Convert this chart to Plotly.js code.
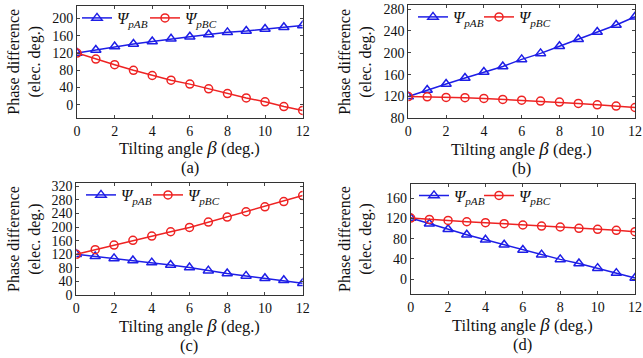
<!DOCTYPE html>
<html>
<head>
<meta charset="utf-8">
<script src="https://cdn.plot.ly/plotly-3.0.1.min.js"></script>
<style>html,body{margin:0;padding:0;background:#fff}#chart{width:643px;height:358px}</style>
</head>
<body>
<div id="chart"></div>
<script>
var beta = [0,1,2,3,4,5,6,7,8,9,10,11,12];
var aAB = [120,127,135,141,147,153,158,163,168,171,176,180,184];
var aBC = [120,106,93,80,68,57,48,37,26,16,7,-4,-13];
var bAB = [120,132,143,154,165,175,188,199,212,225,238,251,266];
var bBC = [120,119.6,118.5,118,116.6,114.8,113.5,111.7,110,107.5,105,102.6,100];
var cAB = [120,114,108,102,95.6,88.8,81,72,63.4,56.6,49.8,44,35];
var cBC = [120,133.7,147.3,161,173.7,186.3,199,214.6,229.3,245,259.5,275,292.7];
var dAB = [121,109.8,98.7,88,77.8,68,57.5,48.4,39,30.7,21.6,11.8,2];
var dBC = [121,118.3,116.3,113.7,111.8,109.8,107.2,105.2,103.3,100.7,98.7,96.7,94];
var nameAB = '<i>Ψ</i><sub><i>pAB</i></sub>';
var nameBC = '<i>Ψ</i><sub><i>pBC</i></sub>';
var panelLabels = ['(a)','(b)','(c)','(d)'];
var xTitle = 'Tilting angle <i style="font-size:19px">β</i> (deg.)';
var yTitle = 'Phase difference<br>(elec. deg.)';

var FAM = 'Liberation Serif';
var blue = 'rgb(30,30,230)', red = 'rgb(238,35,35)';
var sets = [[aAB,aBC],[bAB,bBC],[cAB,cBC],[dAB,dBC]];
var traces = [];
sets.forEach(function(s,i){
  var ax = i===0?'':String(i+1);
  var lgA = i===0?'legend':'legend'+(2*i+1);
  var lgB = 'legend'+(2*i+2);
  traces.push({x:beta,y:s[0],xaxis:'x'+ax,yaxis:'y'+ax,legend:lgA,name:nameAB,mode:'lines+markers',
    line:{color:blue,width:1.5},marker:{symbol:'triangle-up-open',size:9,color:blue,line:{width:1.5}}});
  traces.push({x:beta,y:s[1],xaxis:'x'+ax,yaxis:'y'+ax,legend:lgB,name:nameBC,mode:'lines+markers',
    line:{color:red,width:1.5},marker:{symbol:'circle-open',size:8,color:red,line:{width:1.5}}});
});

var font = {family:FAM, size:14, color:'#111'};
var tf = {family:FAM,size:14,color:'#111'};
function xa(dom, anchor){return {domain:dom,anchor:anchor,range:[0,12],dtick:2,tick0:0,ticks:'inside',ticklen:3,
  showline:true,mirror:'ticks',linecolor:'#333',linewidth:1,showgrid:false,zeroline:false,tickfont:tf};}
function ya(dom, anchor, rng){return {domain:dom,anchor:anchor,range:rng,dtick:40,tick0:0,ticks:'inside',ticklen:3,
  showline:true,mirror:'ticks',linecolor:'#333',linewidth:1,showgrid:false,zeroline:false,tickfont:tf};}

var dx = [[0.1198,0.4707],[0.635,0.9876],[0.1187,0.4707],[0.6387,0.9876]];
var dy = [[0.673,0.987],[0.671,0.988],[0.176,0.4907],[0.1788,0.488]];
var rngs = [[-30,230],[80,287],[0,330],[-30,189]];

var layout = {width:643,height:358,margin:{l:0,r:0,t:0,b:0},paper_bgcolor:'#fff',plot_bgcolor:'#fff',font:font,
  showlegend:true,annotations:[]};
var ytX = [25/643, 356/643, 25/643, 356/643];
var lgXA = [77,413,81,414];
var lgXB = [145,479,148,479];
var lgY = [18,16.5,195,195.5];
function mkLegend(x,y){return {x:x/643,y:1-y/358,xanchor:'left',yanchor:'middle',orientation:'h',
    bgcolor:'rgba(0,0,0,0)',font:{family:FAM,size:16,color:'#111'},itemwidth:30,tracegroupgap:0};}
for (var i=0;i<4;i++){
  var s = i===0?'':String(i+1);
  layout['xaxis'+s] = xa(dx[i],'y'+s);
  layout['yaxis'+s] = ya(dy[i],'x'+s,rngs[i]);
  layout[i===0?'legend':'legend'+(2*i+1)] = mkLegend(lgXA[i],lgY[i]);
  layout['legend'+(2*i+2)] = mkLegend(lgXB[i],lgY[i]);
  var cx = (dx[i][0]+dx[i][1])/2;
  var bottomPx = (1-dy[i][0])*358;
  layout.annotations.push({text:xTitle,xref:'paper',yref:'paper',x:cx,y:1-(bottomPx+30)/358,
    xanchor:'center',yanchor:'middle',showarrow:false,font:{family:FAM,size:16.5,color:'#111'}});
  layout.annotations.push({text:panelLabels[i],xref:'paper',yref:'paper',x:cx,y:1-(bottomPx+50)/358,
    xanchor:'center',yanchor:'middle',showarrow:false,font:{family:FAM,size:16.5,color:'#111'}});
  layout.annotations.push({text:yTitle,xref:'paper',yref:'paper',x:ytX[i],y:(dy[i][0]+dy[i][1])/2,
    xanchor:'center',yanchor:'middle',showarrow:false,textangle:-90,font:{family:FAM,size:16,color:'#111'}});
}
Plotly.newPlot('chart',traces,layout,{staticPlot:true});
</script>
</body>
</html>
